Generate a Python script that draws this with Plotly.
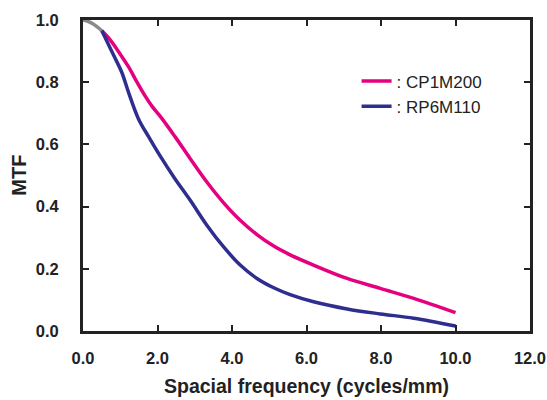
import plotly.graph_objects as go

# Overlapping start segment (both series coincide)
common_x = [0.0, 0.15, 0.3, 0.5]
common_y = [1.0, 0.995, 0.985, 0.966]

cp_x = [0.5, 0.73, 1.0, 1.22, 1.45, 1.67, 1.85, 2.12, 2.47, 2.875, 3.32, 3.77, 4.22, 4.67, 5.12, 5.56, 6.19, 7.09, 7.98, 8.88, 10.0]
cp_y = [0.966, 0.936, 0.89, 0.85, 0.80, 0.755, 0.723, 0.683, 0.625, 0.555, 0.480, 0.413, 0.356, 0.310, 0.273, 0.245, 0.212, 0.169, 0.137, 0.105, 0.059]

rp_x = [0.5, 0.6, 0.8, 1.04, 1.22, 1.49, 1.76, 2.07, 2.45, 2.875, 3.32, 3.77, 4.22, 4.67, 5.12, 5.56, 6.19, 7.09, 7.98, 8.88, 10.0]
rp_y = [0.966, 0.942, 0.892, 0.832, 0.768, 0.682, 0.625, 0.563, 0.493, 0.421, 0.341, 0.271, 0.212, 0.169, 0.139, 0.117, 0.094, 0.071, 0.055, 0.041, 0.016]

names = [": CP1M200", ": RP6M110"]
colors = ["#E5007F", "#2E2E8F"]

x_ticks = [0, 2, 4, 6, 8, 10, 12]
y_ticks = [0, 0.2, 0.4, 0.6, 0.8, 1.0]

x_title = "Spacial frequency (cycles/mm)"
y_title = "MTF"

FONT = "Liberation Sans, Arial, sans-serif"

fig = go.Figure()
fig.add_trace(go.Scatter(x=cp_x, y=cp_y, mode="lines", name=names[0],
                         line=dict(color=colors[0], width=3.5, shape="spline", smoothing=1.0)))
fig.add_trace(go.Scatter(x=rp_x, y=rp_y, mode="lines", name=names[1],
                         line=dict(color=colors[1], width=3.5, shape="spline", smoothing=1.0)))
fig.add_trace(go.Scatter(x=common_x, y=common_y, mode="lines", showlegend=False,
                         line=dict(color="#8A8A8A", width=3.5, shape="spline")))

tickfont = dict(family=FONT, size=16.5, color="#222222", weight="bold")

fig.update_layout(
    width=547, height=400,
    margin=dict(l=83, r=17, t=20, b=69),
    paper_bgcolor="white", plot_bgcolor="white",
    showlegend=True,
    legend=dict(x=0.612, y=0.86, xanchor="left", yanchor="top",
                font=dict(family=FONT, size=17, color="#222222"),
                itemwidth=30, tracegroupgap=0, bgcolor="rgba(0,0,0,0)"),
    xaxis=dict(range=[0, 12], tickvals=x_ticks, tickformat=".1f",
               ticks="inside", ticklen=6, tickwidth=2, tickcolor="#222222",
               showline=True, linewidth=3, linecolor="#222222", mirror="ticks",
               showgrid=False, zeroline=False, automargin=False,
               tickfont=tickfont,
               ticklabelstandoff=10),
    yaxis=dict(range=[0, 1.0], tickvals=y_ticks, tickformat=".1f",
               ticks="inside", ticklen=6, tickwidth=2, tickcolor="#222222",
               showline=True, linewidth=3, linecolor="#222222", mirror="ticks",
               showgrid=False, zeroline=False, automargin=False,
               tickfont=tickfont,
               ticklabelstandoff=18),
    annotations=[
        dict(text=f"<b>{x_title}</b>", xref="paper", yref="paper", x=0.5, y=-0.176,
             xanchor="center", yanchor="middle", showarrow=False,
             font=dict(family=FONT, size=19.5, color="#222222")),
        dict(text=f"<b>{y_title}</b>", xref="paper", yref="paper", x=-0.145, y=0.5,
             xanchor="center", yanchor="middle", showarrow=False, textangle=-90,
             font=dict(family=FONT, size=20, color="#222222")),
    ],
)

fig.write_html("out.html", config={"displayModeBar": False},
               post_script="document.body.style.margin='0';document.body.style.overflow='hidden';")
